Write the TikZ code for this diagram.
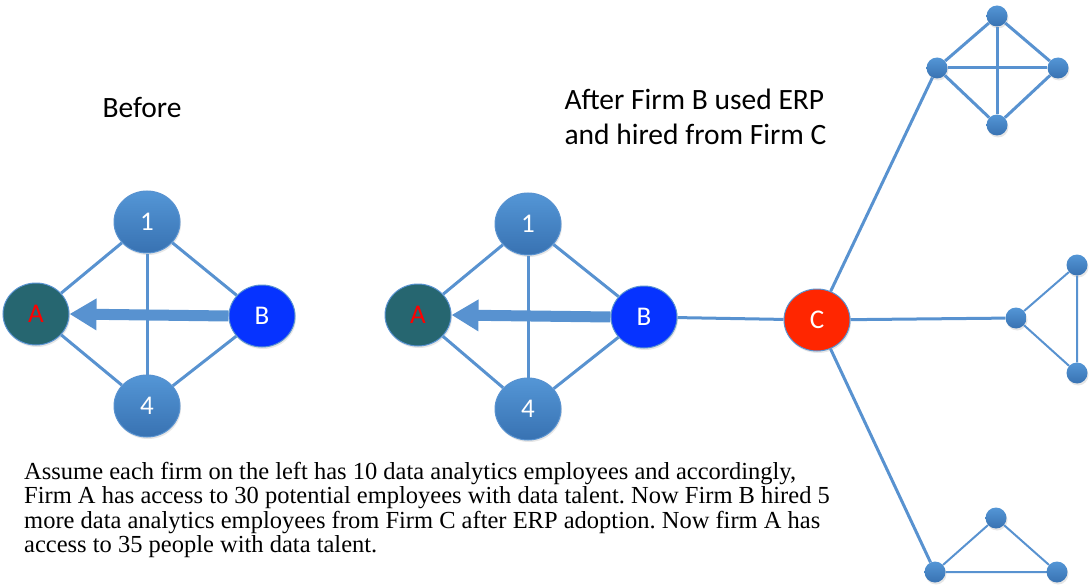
\documentclass[tikz,border=0pt]{standalone}
\usepackage{fontspec}
\setmainfont{Carlito}
\newfontfamily\notefont{Liberation Serif}
\usepackage{tikz}
\usetikzlibrary{shapes.geometric,arrows.meta,positioning,calc,shadows}

\definecolor{linkblue}{RGB}{88,146,208}
\definecolor{nodetop}{RGB}{84,150,214}
\definecolor{nodebot}{RGB}{56,114,178}
\definecolor{firmteal}{RGB}{38,102,112}
\definecolor{firmblue}{RGB}{6,51,255}
\definecolor{firmred}{RGB}{255,38,0}

\tikzset{
    firm/.style={ellipse, draw=linkblue, line width=1pt, minimum width=66pt,
        minimum height=62pt, inner sep=0pt, text=white,
        font=\fontsize{27}{27}\selectfont,
        drop shadow={opacity=0.2, shadow xshift=1pt, shadow yshift=-2pt}},
    plain/.style={firm, top color=nodetop, bottom color=nodebot},
    dot/.style={circle, minimum size=21pt, inner sep=0pt,
        top color=nodetop, bottom color=nodebot,
        drop shadow={opacity=0.2, shadow xshift=1pt, shadow yshift=-2pt}},
    link/.style={draw=linkblue, line width=3pt},
    thinlink/.style={draw=linkblue, line width=2pt},
    hire/.style={draw=linkblue, line width=11pt,
        -{Triangle[width=30pt,length=27pt]}},
    heading/.style={font=\fontsize{29.5}{35}\selectfont, align=left}
}

\begin{document}
\begin{tikzpicture}[x=1pt, y=-1pt]
    \useasboundingbox (0,0) rectangle (1089,588);

    % headings
    \node[heading] (before) at (142,107) {Before};
    \node[heading, anchor=west] (after) at (561,117)
        {After Firm B used ERP\\and hired from Firm C};

    % network before ERP
    \node[plain] (n1) at (147,222) {1};
    \node[plain] (n4) at (147,406) {4};
    \node[firm, fill=firmteal, text=red] (fa) at (36,314) {A};
    \node[firm, fill=firmblue] (fb) at (262,316) {B};
    \draw[link] (fa) -- (n1) -- (fb) -- (n4) -- (fa);
    \draw[link] (n1) -- (n4);
    \draw[hire] (fb.west) -- (fa.east);

    % network after ERP
    \node[plain] (m1) at (528,224) {1};
    \node[plain] (m4) at (528,409) {4};
    \node[firm, fill=firmteal, text=red] (ma) at (418,315) {A};
    \node[firm, fill=firmblue] (mb) at (644,317) {B};
    \node[firm, fill=firmred] (mc) at (817,320) {C};
    \draw[link] (ma) -- (m1) -- (mb) -- (m4) -- (ma);
    \draw[link] (m1) -- (m4);
    \draw[hire] (mb.west) -- (ma.east);
    \draw[link] (mb) -- (mc);

    % firms linked to C
    \node[dot] (k1) at (937,68) {};
    \node[dot] (k2) at (997,16) {};
    \node[dot] (k3) at (1058,68) {};
    \node[dot] (k4) at (997,125) {};
    \foreach \u/\v in {k1/k2, k2/k3, k3/k4, k4/k1, k1/k3, k2/k4}
        \draw[link] (\u) -- (\v);

    \node[dot] (t1) at (1016,318) {};
    \node[dot] (t2) at (1077,265) {};
    \node[dot] (t3) at (1077,373) {};
    \draw[thinlink] (t1) -- (t2) -- (t3) -- (t1);

    \node[dot] (b1) at (935,572) {};
    \node[dot] (b2) at (996,518) {};
    \node[dot] (b3) at (1057,572) {};
    \draw[thinlink] (b1) -- (b2) -- (b3) -- (b1);

    \draw[link] (mc) -- (k1);
    \draw[link] (mc) -- (t1);
    \draw[link] (mc) -- (b1);

    % note
    \node[anchor=north west, align=left, inner sep=0pt,
          font=\notefont\fontsize{24.5}{24.5}\selectfont\frenchspacing] (note) at (24,462)
        {Assume each firm on the left has 10 data analytics employees and accordingly,\\
         Firm A has access to 30 potential employees with data talent. Now Firm B hired 5\\
         more data analytics employees from Firm C after ERP adoption. Now firm A has\\
         access to 35 people with data talent.};
\end{tikzpicture}
\end{document}
